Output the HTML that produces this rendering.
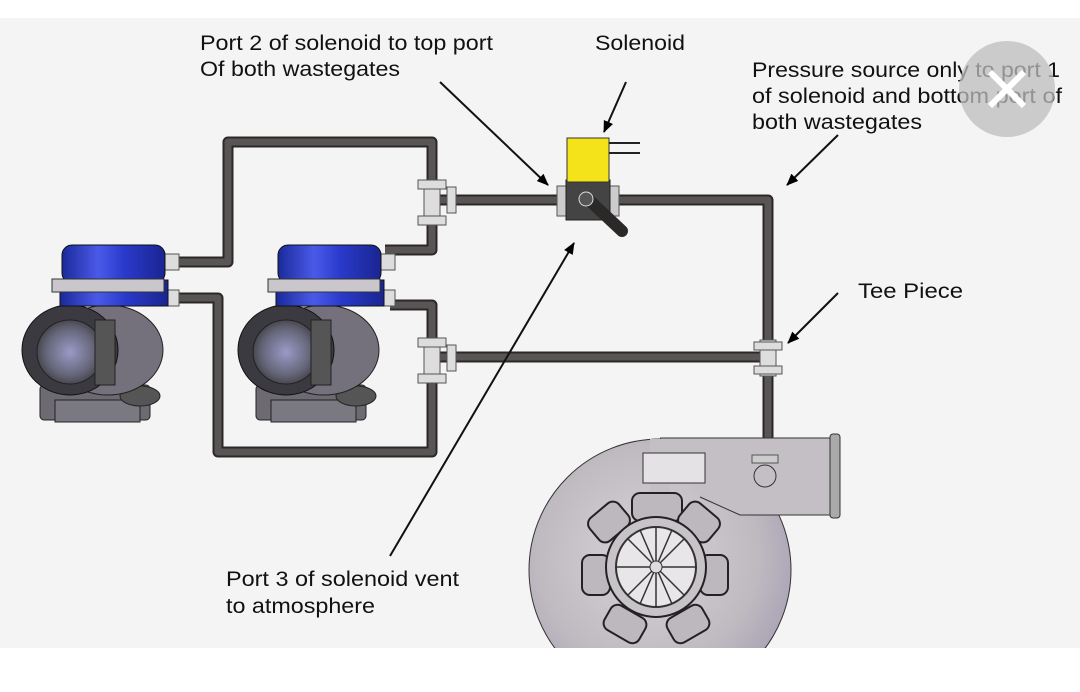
<!DOCTYPE html>
<html><head><style>
html,body{margin:0;padding:0;background:#fff;}
svg{display:block;}
text{font-family:"Liberation Sans",Arial,sans-serif;font-size:21px;fill:#111;}
</style></head><body>
<svg width="1080" height="692" viewBox="0 0 1080 692" xmlns="http://www.w3.org/2000/svg">
<defs>
<radialGradient id="tg" cx="0.45" cy="0.45" r="0.6"><stop offset="0" stop-color="#d8d4d8"/><stop offset="0.7" stop-color="#bfbac0"/><stop offset="1" stop-color="#a8a2b5"/></radialGradient>
<linearGradient id="bl" x1="0" x2="1"><stop offset="0" stop-color="#1a2a9a"/><stop offset="0.35" stop-color="#4a5ae8"/><stop offset="0.6" stop-color="#2a3acc"/><stop offset="1" stop-color="#1a2590"/></linearGradient>
<radialGradient id="bd" cx="0.5" cy="0.5" r="0.6"><stop offset="0" stop-color="#9a9ac8"/><stop offset="0.6" stop-color="#66667a"/><stop offset="1" stop-color="#333"/></radialGradient>
<marker id="ah" markerWidth="12" markerHeight="10" refX="11" refY="5" orient="auto" markerUnits="userSpaceOnUse"><path d="M0,0 L12,5 L0,10 z"/></marker>
<g id="wg">
  <rect x="40" y="385" width="110" height="35" rx="4" fill="#6d6a72" stroke="#222"/>
  <rect x="55" y="400" width="85" height="22" fill="#7a7880" stroke="#222"/>
  <ellipse cx="140" cy="396" rx="20" ry="10" fill="#555" stroke="#222"/>
  <ellipse cx="108" cy="350" rx="55" ry="45" fill="#74717c" stroke="#222"/>
  <ellipse cx="70" cy="350" rx="48" ry="45" fill="#3a3a40" stroke="#111"/>
  <ellipse cx="70" cy="352" rx="33" ry="32" fill="url(#bd)" stroke="#222"/>
  <rect x="95" y="320" width="20" height="65" fill="#555" stroke="#222"/>
  <rect x="62" y="245" width="103" height="38" rx="10" fill="url(#bl)" stroke="#111"/>
  <rect x="60" y="280" width="108" height="26" fill="url(#bl)" stroke="#111"/>
  <rect x="52" y="279" width="112" height="13" fill="#c9c7cc" stroke="#333"/>
</g>
</defs>
<rect x="0" y="18" width="1080" height="630" fill="#f5f4f5"/>
<g fill="none" stroke="#2b2828" stroke-width="11" stroke-linejoin="round">
<path d="M170,262 H228 V142 H432 V250 H385"/>
<path d="M170,298 H218 V452 H432 V305 H390"/>
<path d="M440,200 H560 M615,200 H768 V458"/>
<path d="M440,357 H768"/>
</g>
<g fill="none" stroke="#5a5555" stroke-width="7" stroke-linejoin="round">
<path d="M170,262 H228 V142 H432 V250 H385"/>
<path d="M170,298 H218 V452 H432 V305 H390"/>
<path d="M440,200 H560 M615,200 H768 V458"/>
<path d="M440,357 H768"/>
</g>
<g fill="#ddd" stroke="#555">
<rect x="424" y="182" width="16" height="42"/><rect x="418" y="180" width="28" height="9"/><rect x="418" y="216" width="28" height="9"/><rect x="447" y="187" width="9" height="26"/>
<rect x="424" y="340" width="16" height="42"/><rect x="418" y="338" width="28" height="9"/><rect x="418" y="374" width="28" height="9"/><rect x="447" y="345" width="9" height="26"/>
<rect x="760" y="340" width="16" height="36"/><rect x="754" y="342" width="28" height="8"/><rect x="754" y="366" width="28" height="8"/>
<rect x="157" y="254" width="22" height="16"/><rect x="157" y="290" width="22" height="16"/>
<rect x="373" y="254" width="22" height="16"/><rect x="373" y="290" width="22" height="16"/>
</g>
<use href="#wg"/>
<use href="#wg" x="216"/>
<rect x="557" y="186" width="10" height="30" fill="#ccc" stroke="#555"/>
<rect x="609" y="186" width="10" height="30" fill="#ccc" stroke="#555"/>
<rect x="566" y="180" width="44" height="40" fill="#444" stroke="#222"/>
<rect x="567" y="138" width="42" height="44" fill="#f4e21a" stroke="#333"/>
<path d="M609,143 H640 M609,153 H640" stroke="#222" stroke-width="2"/>
<path d="M590,201 L622,231" stroke="#2b2828" stroke-width="12" stroke-linecap="round"/>
<circle cx="586" cy="199" r="7" fill="#555" stroke="#ddd"/>
<!-- turbo -->
<circle cx="660" cy="570" r="131" fill="url(#tg)" stroke="#333"/>
<path d="M660,438 H832 V515 H740 L700,497" fill="#c4bfc4" stroke="#333"/>
<rect x="650" y="439" width="20" height="56" fill="#c4bfc4"/>
<rect x="830" y="434" width="10" height="84" rx="3" fill="#aaa" stroke="#333"/>
<rect x="643" y="453" width="62" height="30" fill="#e4e2e4" stroke="#333"/>
<circle cx="765" cy="476" r="11" fill="none" stroke="#333"/>
<rect x="752" y="455" width="26" height="8" fill="#ccc" stroke="#555"/>
<g fill="#bdb8bd" stroke="#222" stroke-width="2">
<rect x="632" y="493" width="50" height="28" rx="8"/>
<rect x="680" y="507" width="38" height="30" rx="8" transform="rotate(40 699 522)"/>
<rect x="700" y="555" width="28" height="40" rx="8"/>
<rect x="590" y="507" width="38" height="30" rx="8" transform="rotate(-40 609 522)"/>
<rect x="582" y="555" width="28" height="40" rx="8"/>
<rect x="605" y="610" width="40" height="28" rx="8" transform="rotate(30 625 624)"/>
<rect x="668" y="610" width="40" height="28" rx="8" transform="rotate(-30 688 624)"/>
</g>
<circle cx="656" cy="567" r="50" fill="#c8c3c8" stroke="#222" stroke-width="2"/>
<circle cx="656" cy="567" r="40" fill="#e8e6e8" stroke="#333" stroke-width="2"/>
<g stroke="#333" stroke-width="1.5">
<path d="M656,527 V607 M616,567 H696 M628,539 L684,595 M684,539 L628,595 M640,530 L672,604 M672,530 L640,604"/>
</g>
<circle cx="656" cy="567" r="6" fill="#ddd" stroke="#333"/>
<rect x="0" y="648" width="1080" height="44" fill="#fff"/>
<g stroke="#111" stroke-width="2" marker-end="url(#ah)">
<line x1="440" y1="82" x2="548" y2="185"/>
<line x1="626" y1="82" x2="604" y2="132"/>
<line x1="838" y1="135" x2="787" y2="185"/>
<line x1="838" y1="293" x2="788" y2="343"/>
<line x1="390" y1="556" x2="574" y2="243"/>
</g>
<text x="200" y="50" textLength="293" lengthAdjust="spacingAndGlyphs">Port 2 of solenoid to top port</text>
<text x="200" y="76" textLength="200" lengthAdjust="spacingAndGlyphs">Of both wastegates</text>
<text x="595" y="50" textLength="90" lengthAdjust="spacingAndGlyphs">Solenoid</text>
<text x="752" y="77" textLength="308" lengthAdjust="spacingAndGlyphs">Pressure source only to port 1</text>
<text x="752" y="103" textLength="310" lengthAdjust="spacingAndGlyphs">of solenoid and bottom port of</text>
<text x="752" y="129" textLength="170" lengthAdjust="spacingAndGlyphs">both wastegates</text>
<text x="858" y="298" textLength="105" lengthAdjust="spacingAndGlyphs">Tee Piece</text>
<text x="226" y="586" textLength="233" lengthAdjust="spacingAndGlyphs">Port 3 of solenoid vent</text>
<text x="226" y="613" textLength="149" lengthAdjust="spacingAndGlyphs">to atmosphere</text>
<circle cx="1007" cy="89" r="48" fill="#bdbdbd" fill-opacity="0.75"/>
<path d="M990,72 L1024,106 M1024,72 L990,106" stroke="#fff" stroke-width="6"/>
</svg>
</body></html>
